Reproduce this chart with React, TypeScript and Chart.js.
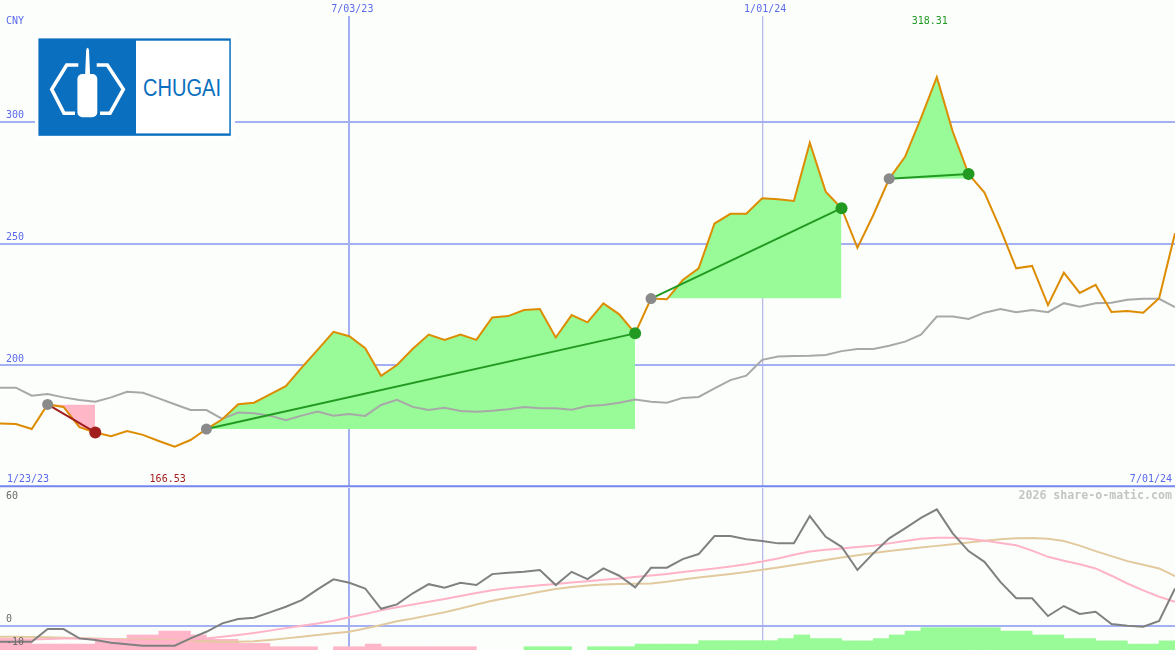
import React, { useEffect, useRef } from 'react';
import { Chart, registerables } from 'chart.js';

Chart.register(...registerables);

// ---------- DATA (weekly, week index 0..74) ----------
const price = [
  176.1, 175.9, 173.8, 183.9, 182.9, 174.6, 172.4, 170.9, 173.0, 171.4,
  168.9, 166.53, 169.3, 173.8, 177.8, 184.0, 184.6, 188.0, 191.4, 199.0,
  206.3, 213.7, 211.9, 207.0, 195.7, 200.1, 206.8, 212.6, 210.4, 212.6,
  210.4, 219.6, 220.2, 222.7, 223.1, 211.4, 220.6, 217.6, 225.4, 220.9,
  213.1, 227.4, 227.1, 235.0, 239.8, 258.2, 262.2, 262.2, 268.6, 268.2,
  267.5, 291.4, 271.3, 264.5, 248.2, 261.7, 276.6, 285.6, 301.5, 318.31,
  296.0, 278.5, 270.9, 256.0, 239.8, 240.8, 224.7, 238.0, 229.7, 233.0,
  221.9, 222.3, 221.6, 227.5, 254.2,
];

const priceAverage = [
  190.8, 190.8, 187.5, 188.2, 186.8, 185.7, 185.0, 186.8, 189.1, 188.7,
  186.4, 184.0, 181.6, 181.6, 178.0, 180.6, 180.3, 179.3, 177.4, 179.3,
  181.0, 179.3, 180.0, 179.2, 183.7, 185.8, 182.9, 181.6, 182.5, 181.2,
  180.9, 181.3, 181.9, 182.9, 182.3, 182.3, 181.7, 183.3, 183.7, 184.6,
  185.9, 185.0, 184.6, 186.6, 187.0, 190.5, 193.9, 195.7, 202.2, 203.6,
  203.8, 203.9, 204.2, 205.8, 206.7, 206.7, 208.0, 209.7, 212.6, 220.0,
  220.0, 219.0, 221.6, 223.1, 221.8, 222.7, 221.8, 225.5, 224.0, 225.5,
  225.7, 226.9, 227.3, 227.3, 223.9,
];

const oscillator = [
  -7.0, -7.0, -7.0, -1.4, -1.4, -5.5, -6.2, -7.4, -8.1, -8.7,
  -8.7, -8.7, -5.5, -2.6, 1.1, 3.0, 3.6, 5.9, 8.4, 11.3,
  16.0, 20.4, 18.9, 16.4, 7.5, 9.4, 14.3, 18.3, 16.7, 18.9,
  17.9, 22.7, 23.3, 23.7, 24.5, 17.9, 23.7, 20.5, 25.2, 22.0,
  16.9, 25.5, 25.5, 29.3, 31.5, 39.4, 39.4, 38.0, 37.2, 36.2,
  36.2, 48.2, 39.1, 34.7, 24.5, 31.8, 38.4, 42.8, 47.4, 51.1,
  40.6, 32.8, 28.1, 19.3, 12.1, 12.1, 4.3, 8.7, 5.2, 6.2,
  0.8, 0.0, -0.4, 2.2, 16.4,
];

const oscFast = [
  -5.8, -5.9, -6.0, -5.8, -5.6, -5.6, -5.8, -6.0, -6.2, -6.4,
  -6.5, -6.5, -6.2, -5.6, -4.8, -4.0, -3.1, -2.1, -1.0, 0.0,
  1.0, 2.2, 3.8, 5.2, 6.8, 8.2, 9.4, 10.6, 11.8, 13.1,
  14.4, 15.6, 16.5, 17.2, 17.8, 18.4, 19.0, 19.6, 20.2, 20.8,
  21.4, 22.1, 22.8, 23.6, 24.4, 25.2, 26.0, 27.0, 28.2, 29.6,
  31.2, 32.6, 33.4, 34.0, 34.6, 35.2, 36.2, 37.2, 38.2, 38.7,
  38.7, 38.2, 37.4, 36.4, 35.4, 33.0, 30.3, 28.6, 27.0, 25.2,
  22.0, 18.6, 15.6, 12.8, 10.6,
];

const oscSlow = [
  -4.8, -4.8, -4.9, -5.0, -5.2, -5.4, -5.6, -5.8, -5.9, -6.0,
  -6.1, -6.3, -6.6, -6.8, -7.0, -7.0, -6.8, -6.2, -5.5, -4.8,
  -4.0, -3.2, -2.6, -1.2, 0.4, 2.0, 3.2, 4.6, 6.0, 7.6,
  9.4, 11.0, 12.3, 13.6, 15.0, 16.2, 17.0, 17.7, 18.2, 18.4,
  18.5, 18.6, 19.4, 20.3, 21.2, 22.0, 22.8, 23.6, 24.6, 25.6,
  26.7, 27.8, 28.9, 30.0, 31.0, 32.0, 32.8, 33.6, 34.4, 35.1,
  35.8, 36.6, 37.4, 38.0, 38.4, 38.6, 38.2, 37.2, 35.2, 32.8,
  30.6, 28.4, 26.8, 25.2, 21.8,
];

// histogram, bar i spans week i .. i+1 (negative = pink, positive = green)
const histogram = [
  -4.7, -4.7, -2.6, -2.6, -2.6, -2.6, -4.1, -4.1, -6.6, -6.6,
  -8.3, -8.3, -6.6, -4.7, -4.7, -2.9, -2.9, -1.45, -1.45, -1.45,
  0, -1.45, -1.45, -2.6, -1.45, -1.45, -1.45, -1.45, -1.45, -1.45,
  0, 0, 0, 1.45, 1.45, 1.45, 0, 1.45, 1.45, 1.45,
  2.6, 2.6, 2.6, 2.6, 4.1, 4.1, 4.1, 4.1, 4.1, 5.0,
  6.6, 5.0, 5.0, 4.0, 4.0, 5.0, 6.6, 8.3, 9.8, 9.8,
  9.8, 9.8, 9.8, 8.3, 8.3, 6.6, 6.6, 5.0, 5.0, 4.0,
  4.0, 2.6, 2.6, 4.0,
];

const tradeEntry = [3, 13, 41, 56];
const tradeExit = [6, 40, 53, 61];

const dateTickWeeks = [22, 48];
const dateTickLabels = ['7/03/23', '1/01/24'];
const rangeStartLabel = '1/23/23';
const rangeEndLabel = '7/01/24';
const priceTicks = [200, 250, 300];
const oscTicks = [60, 0, -10];
const oscGridTicks = [0];
const currencyLabel = 'CNY';
const watermark = '2026 share-o-matic.com';
const logoText = 'CHUGAI';

// ---------- STYLE ----------
const X_MIN = 0;
const X_MAX = 74;
const P_MIN = 150;
const P_MAX = 343.43;
const O_MIN = -10.6;
const O_MAX = 60.5;
const W = 1175;
const MAIN_H = 488;
const LOW_H = 162;

const COL = {
  bg: '#FCFEFC',
  grid: '#A3B1F2',
  gridSoft: '#B5BCE6',
  sep: '#7486EE',
  label: '#5A6AEA',
  axisGray: '#6A6A6A',
  orange: '#DD8C00',
  avg: '#A8A8A8',
  winFill: '#98FB98',
  lossFill: '#FFB6C6',
  winLine: '#229A22',
  lossLine: '#A21E1E',
  entry: '#8A8A8A',
  osc: '#808080',
  fast: '#FFB3C6',
  slow: '#E2CA9E',
  histNeg: '#FFB6C8',
  histPos: '#98FB98',
  watermark: '#C4C4C4',
  logo: '#0A6FBE',
};
const MONO = '"DejaVu Sans Mono", monospace';

const TRANSPARENT = 'rgba(0,0,0,0)';

function seriesPoints(arr: number[], from: number, to: number) {
  const out: { x: number; y: number }[] = [];
  for (let i = from; i <= to; i++) out.push({ x: i, y: arr[i] });
  return out;
}

function xScale() {
  return {
    type: 'linear' as const,
    min: X_MIN,
    max: X_MAX,
    offset: false,
    afterBuildTicks: (axis: any) => {
      axis.ticks = dateTickWeeks.map((v) => ({ value: v }));
    },
    afterFit: (axis: any) => {
      axis.height = 0;
    },
    ticks: { display: false },
    grid: {
      offset: false,
      drawTicks: false,
      color: (c: any) => (c.tick && c.tick.value === dateTickWeeks[0] ? COL.grid : COL.gridSoft),
      lineWidth: (c: any) => (c.tick && c.tick.value === dateTickWeeks[0] ? 2 : 1.3),
    },
    border: { display: false },
  };
}

function yScale(min: number, max: number, ticks: number[]) {
  return {
    type: 'linear' as const,
    min,
    max,
    afterBuildTicks: (axis: any) => {
      axis.ticks = ticks.map((v) => ({ value: v }));
    },
    afterFit: (axis: any) => {
      axis.width = 0;
    },
    ticks: { display: false },
    grid: { offset: false, drawTicks: false, color: COL.grid, lineWidth: 2 },
    border: { display: false },
  };
}

const mainTextPlugin = {
  id: 'mainText',
  afterDraw(chart: any) {
    const { ctx } = chart;
    const x = chart.scales.x;
    const y = chart.scales.y;
    ctx.save();
    ctx.font = `10px ${MONO}`;
    ctx.textBaseline = 'middle';
    ctx.fillStyle = COL.label;
    ctx.textAlign = 'left';
    ctx.fillText(currencyLabel, 6, 21);
    priceTicks.forEach((v) => ctx.fillText(String(v), 6, y.getPixelForValue(v) - 6));
    ctx.fillText(rangeStartLabel, 7, 479);
    ctx.textAlign = 'right';
    ctx.fillText(rangeEndLabel, 1172, 479);
    ctx.textAlign = 'center';
    dateTickWeeks.forEach((w, k) => ctx.fillText(dateTickLabels[k], x.getPixelForValue(w) + 3, 9));

    let lo = 0;
    let hi = 0;
    price.forEach((p, i) => {
      if (p < price[lo]) lo = i;
      if (p > price[hi]) hi = i;
    });
    ctx.fillStyle = COL.lossLine;
    ctx.fillText(price[lo].toFixed(2), x.getPixelForValue(lo) - 7, 479);
    ctx.fillStyle = COL.winLine;
    ctx.fillText(price[hi].toFixed(2), x.getPixelForValue(hi) - 7, 21);

    ctx.strokeStyle = COL.sep;
    ctx.lineWidth = 2;
    ctx.beginPath();
    ctx.moveTo(0, 486.3);
    ctx.lineTo(chart.width, 486.3);
    ctx.stroke();
    ctx.restore();
  },
};

const lowTextPlugin = {
  id: 'lowText',
  afterDraw(chart: any) {
    const { ctx } = chart;
    const y = chart.scales.y;
    ctx.save();
    ctx.font = `10px ${MONO}`;
    ctx.textBaseline = 'middle';
    ctx.textAlign = 'left';
    ctx.fillStyle = COL.axisGray;
    oscTicks.forEach((v) => ctx.fillText(String(v), 6, Math.max(8, y.getPixelForValue(v) - 6)));
    ctx.font = `bold 11.6px ${MONO}`;
    ctx.fillStyle = COL.watermark;
    ctx.textAlign = 'right';
    ctx.fillText(watermark, 1172, 8);
    ctx.restore();
  },
};

function buildMainDatasets() {
  const ds: any[] = [];
  tradeEntry.forEach((entry, k) => {
    const exit = tradeExit[k];
    const win = price[exit] >= price[entry];
    const baseIndex = ds.length;
    const base: { x: number; y: number }[] = [];
    for (let i = entry; i <= exit; i++) base.push({ x: i, y: price[entry] });
    ds.push({
      data: base,
      borderColor: TRANSPARENT,
      borderWidth: 0,
      pointRadius: 0,
      fill: false,
      order: 10,
    });
    ds.push({
      data: seriesPoints(price, entry, exit),
      borderColor: TRANSPARENT,
      borderWidth: 0,
      pointRadius: 0,
      fill: {
        target: baseIndex,
        above: win ? COL.winFill : TRANSPARENT,
        below: win ? TRANSPARENT : COL.lossFill,
      },
      order: 10,
    });
  });
  ds.push({
    data: seriesPoints(priceAverage, 0, priceAverage.length - 1),
    borderColor: COL.avg,
    borderWidth: 2,
    pointRadius: 0,
    fill: false,
    order: 5,
  });
  ds.push({
    data: seriesPoints(price, 0, price.length - 1),
    borderColor: COL.orange,
    borderWidth: 2,
    pointRadius: 0,
    fill: false,
    order: 4,
  });
  tradeEntry.forEach((entry, k) => {
    const exit = tradeExit[k];
    const win = price[exit] >= price[entry];
    ds.push({
      data: [
        { x: entry, y: price[entry] },
        { x: exit, y: price[exit] },
      ],
      borderColor: win ? COL.winLine : COL.lossLine,
      borderWidth: 2,
      pointRadius: 0,
      fill: false,
      order: 3,
    });
  });
  ds.push({
    data: tradeEntry.map((e) => ({ x: e, y: price[e] })),
    showLine: false,
    pointRadius: 5.5,
    pointBorderWidth: 0,
    pointBackgroundColor: COL.entry,
    pointBorderColor: COL.entry,
    order: 1,
  });
  ds.push({
    data: tradeExit.map((e) => ({ x: e, y: price[e] })),
    showLine: false,
    pointRadius: 6,
    pointBorderWidth: 0,
    pointBackgroundColor: tradeExit.map((e, k) =>
      price[e] >= price[tradeEntry[k]] ? COL.winLine : COL.lossLine
    ),
    pointBorderColor: TRANSPARENT,
    order: 0,
  });
  return ds;
}

function buildLowDatasets() {
  const bars: any[] = [];
  const barColors: string[] = [];
  histogram.forEach((v, i) => {
    if (v === 0) return;
    bars.push({ x: i + 0.5, y: [O_MIN, O_MIN + Math.abs(v)] });
    barColors.push(v < 0 ? COL.histNeg : COL.histPos);
  });
  return [
    {
      type: 'bar',
      data: bars,
      backgroundColor: barColors,
      borderWidth: 0,
      barPercentage: 1,
      categoryPercentage: 1,
      order: 10,
    },
    {
      type: 'line',
      data: seriesPoints(oscSlow, 0, oscSlow.length - 1),
      borderColor: COL.slow,
      borderWidth: 2,
      pointRadius: 0,
      fill: false,
      order: 3,
    },
    {
      type: 'line',
      data: seriesPoints(oscFast, 0, oscFast.length - 1),
      borderColor: COL.fast,
      borderWidth: 2,
      pointRadius: 0,
      fill: false,
      order: 2,
    },
    {
      type: 'line',
      data: seriesPoints(oscillator, 0, oscillator.length - 1),
      borderColor: COL.osc,
      borderWidth: 2,
      pointRadius: 0,
      fill: false,
      order: 1,
    },
  ];
}

const baseOptions = {
  responsive: false,
  animation: false as const,
  devicePixelRatio: 1,
  events: [] as any[],
  elements: { line: { tension: 0 } },
  plugins: {
    legend: { display: false },
    tooltip: { enabled: false },
    title: { display: false },
  },
};

export default function App() {
  const mainRef = useRef<HTMLCanvasElement | null>(null);
  const lowRef = useRef<HTMLCanvasElement | null>(null);

  useEffect(() => {
    document.body.style.margin = '0';
    document.body.style.background = COL.bg;
    const mainChart = new Chart(mainRef.current as HTMLCanvasElement, {
      type: 'line',
      data: { datasets: buildMainDatasets() },
      options: {
        ...baseOptions,
        layout: { autoPadding: false, padding: { top: 16, bottom: 1, left: 0, right: 0 } },
        scales: {
          x: xScale(),
          y: yScale(P_MIN, P_MAX, priceTicks),
        },
      } as any,
      plugins: [mainTextPlugin],
    });
    const lowChart = new Chart(lowRef.current as HTMLCanvasElement, {
      type: 'line',
      data: { datasets: buildLowDatasets() as any },
      options: {
        ...baseOptions,
        layout: { autoPadding: false, padding: 0 },
        scales: {
          x: xScale(),
          y: yScale(O_MIN, O_MAX, oscGridTicks),
        },
      } as any,
      plugins: [lowTextPlugin],
    });
    return () => {
      mainChart.destroy();
      lowChart.destroy();
    };
  }, []);

  return (
    <div
      style={{
        position: 'absolute',
        left: 0,
        top: 0,
        width: W,
        height: MAIN_H + LOW_H,
        background: COL.bg,
        overflow: 'hidden',
      }}
    >
      <canvas
        ref={mainRef}
        width={W}
        height={MAIN_H}
        style={{ position: 'absolute', left: 0, top: 0, width: W, height: MAIN_H, display: 'block' }}
      />
      <canvas
        ref={lowRef}
        width={W}
        height={LOW_H}
        style={{ position: 'absolute', left: 0, top: MAIN_H, width: W, height: LOW_H, display: 'block' }}
      />
      <svg width={240} height={142} style={{ position: 'absolute', left: 0, top: 0 }}>
        <rect x={35} y={35} width={200} height={105} fill="#FFFFFF" />
        <rect x={38.4} y={38.4} width={192.4} height={97.4} fill={COL.logo} />
        <rect x={136} y={40.7} width={93.3} height={92.7} fill="#FFFFFF" />
        <polyline
          points="78.3,65 66.7,65 51.7,89.3 64,113.3 75,113.3"
          fill="none"
          stroke="#FFFFFF"
          strokeWidth={3.6}
        />
        <polyline
          points="96.7,65 107.3,65 123.3,89.3 110,113.3 100,113.3"
          fill="none"
          stroke="#FFFFFF"
          strokeWidth={3.6}
        />
        <path d="M86.2 50 Q87.6 45.5 89 50 L90.2 77 L85 77 Z" fill="#FFFFFF" />
        <rect x={77.4} y={74} width={19.9} height={43.3} rx={5} fill="#FFFFFF" />
        <text
          x={143}
          y={95.5}
          fontFamily='"Liberation Sans", Arial, sans-serif'
          fontSize={23.5}
          fill={COL.logo}
          textLength={78}
          lengthAdjust="spacingAndGlyphs"
        >
          {logoText}
        </text>
      </svg>
    </div>
  );
}
